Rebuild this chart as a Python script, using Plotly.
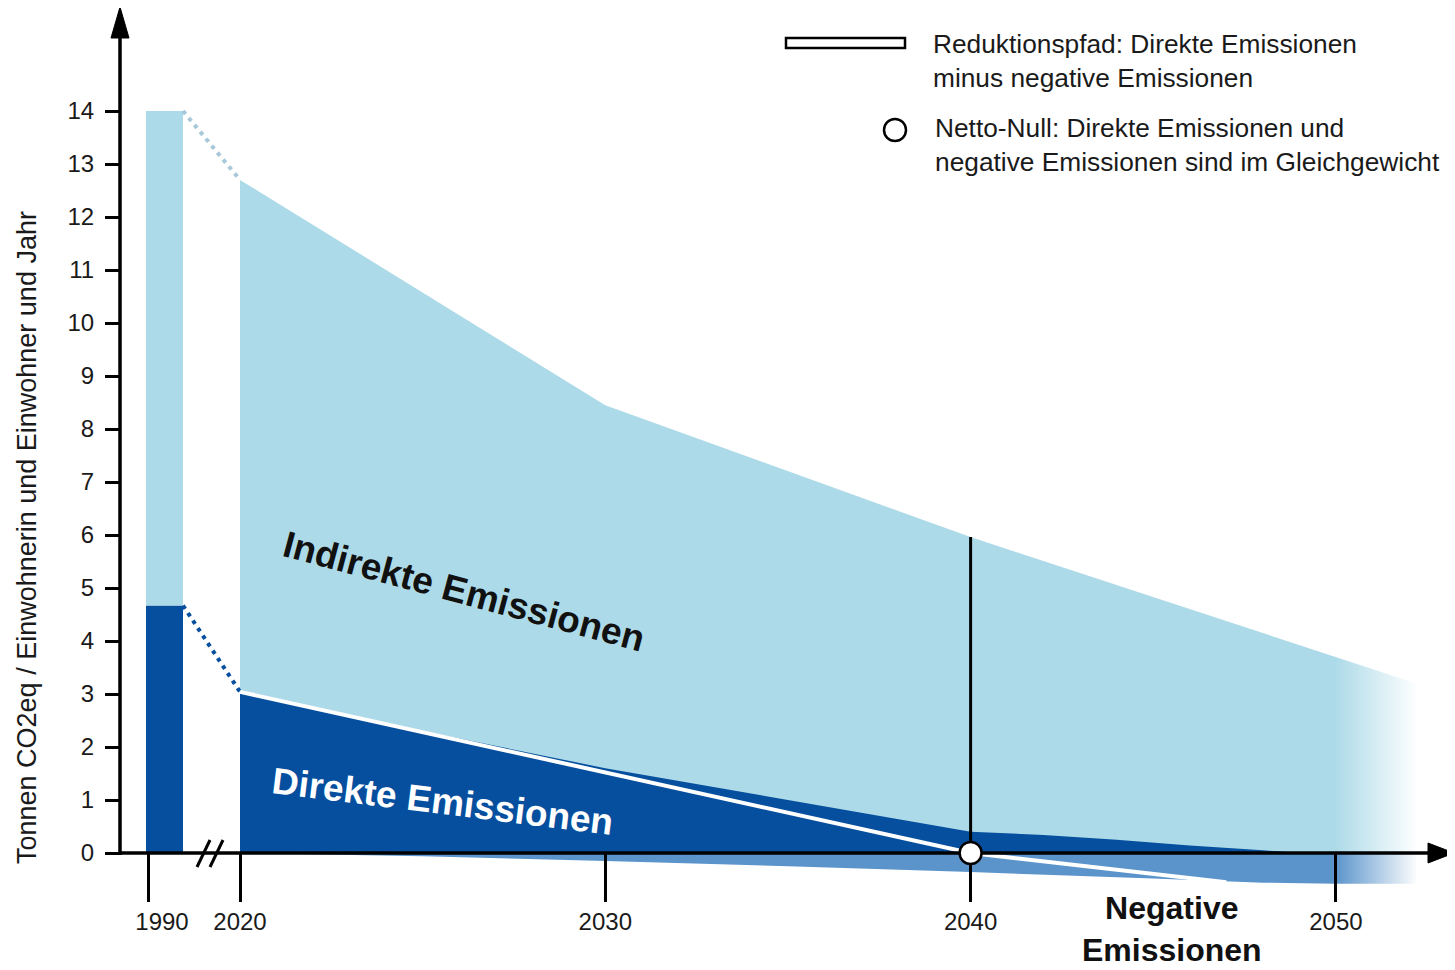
import plotly.graph_objects as go

# ---------------- data ----------------
bar_year = 1990
bar_total = 14.0          # direct + indirect, 1990
bar_direct = 4.67         # direct, 1990

years_total = [2020, 2030, 2040, 2052.2]
total = [12.7, 8.45, 5.96, 3.2]                     # upper edge (direct + indirect)

years_direct = [2020, 2025, 2030, 2035, 2040, 2042, 2044, 2046, 2048, 2049]
direct = [3.04, 2.30, 1.60, 1.00, 0.40, 0.34, 0.25, 0.14, 0.05, 0.0]

years_neg = [2020, 2025, 2030, 2035, 2040, 2045, 2048, 2050, 2052.2]
negative = [0.0, -0.06, -0.15, -0.25, -0.36, -0.48, -0.56, -0.58, -0.58]

years_net = [2020, 2030, 2040, 2047]
net = [3.04, 1.52, 0.0, -0.55]                       # Reduktionspfad

netzero_year = 2040
netzero_value = 0.0

tick_years = [1990, 2020, 2030, 2040, 2050]
tick_labels = ["1990", "2020", "2030", "2040", "2050"]
y_ticks = list(range(0, 15))

label_indirect = "Indirekte Emissionen"
label_direct = "Direkte Emissionen"
label_negative = "Negative<br>Emissionen"
y_title = "Tonnen CO2eq / Einwohnerin und Einwohner und Jahr"
legend_path = "Reduktionspfad: Direkte Emissionen<br>minus negative Emissionen"
legend_null = "Netto-Null: Direkte Emissionen und<br>negative Emissionen sind im Gleichgewicht"

# ---------------- styling / layout calibration ----------------
OFF = 8                      # page body margin of the browser
FIG_W, FIG_H = 1455 - OFF, 970 - OFF
FONT = "Liberation Sans, Arial, Helvetica, sans-serif"
LIGHT = "#ADDAE8"
DARK = "#064F9F"
MEDIUM = "#5A94CB"
LIGHT_DOT = "#A6C8D8"
TXT = "#1a1a1a"

PX_PER_YEAR = 36.53
X_REF_YEAR, X_REF_PX = 2020, 240
Y_ZERO_PX, PX_PER_UNIT = 853, 53


def xd(px):
    return X_REF_YEAR + (px - X_REF_PX) / PX_PER_YEAR


def yd(py):
    return (Y_ZERO_PX - py) / PX_PER_UNIT


def xp(px):
    return (px - OFF) / FIG_W


def yp(py):
    return 1 - (py - OFF) / FIG_H


# axis break: 1990 is drawn just left of 2020
def xpos(year):
    return xd(148) if year == bar_year else year


bar_offset = xd(146) - xpos(bar_year)
bar_width = 37 / PX_PER_YEAR
tick_pos = [xpos(y) for y in tick_years]
label_pos = [p + (14 / PX_PER_YEAR if y == bar_year else 0) for p, y in zip(tick_pos, tick_years)]

fade_start, fade_stop = xd(1335), xd(1418)

fig = go.Figure()

# indirect (total envelope)
fig.add_trace(go.Scatter(
    x=years_total, y=total, mode="none", fill="tozeroy", fillcolor=LIGHT,
    fillgradient=dict(type="horizontal", start=fade_start, stop=fade_stop,
                      colorscale=[[0, LIGHT], [1, "#FFFFFF"]]),
    hoverinfo="skip"))

# negative emissions
fig.add_trace(go.Scatter(
    x=years_neg, y=negative, mode="none", fill="tozeroy", fillcolor=MEDIUM,
    fillgradient=dict(type="horizontal", start=fade_start, stop=fade_stop,
                      colorscale=[[0, MEDIUM], [1, "#FFFFFF"]]),
    hoverinfo="skip"))

# direct emissions
fig.add_trace(go.Scatter(
    x=years_direct, y=direct, mode="none", fill="tozeroy", fillcolor=DARK,
    hoverinfo="skip"))

# 1990 bar
fig.add_trace(go.Bar(x=[xpos(bar_year)], y=[bar_direct], base=[0], width=[bar_width],
                     offset=[bar_offset], marker=dict(color=DARK, line=dict(width=0)),
                     hoverinfo="skip"))
fig.add_trace(go.Bar(x=[xpos(bar_year)], y=[bar_total - bar_direct], base=[bar_direct],
                     width=[bar_width], offset=[bar_offset],
                     marker=dict(color=LIGHT, line=dict(width=0)), hoverinfo="skip"))

bar_right = xpos(bar_year) + bar_offset + bar_width
fig.add_trace(go.Scatter(x=[bar_right, years_total[0]], y=[bar_total, total[0]], mode="lines",
                         line=dict(color=LIGHT_DOT, width=4, dash="4px,5px"), hoverinfo="skip"))
fig.add_trace(go.Scatter(x=[bar_right, years_direct[0]], y=[bar_direct, direct[0]], mode="lines",
                         line=dict(color=DARK, width=4, dash="4px,5px"), hoverinfo="skip"))

# reduction path (white line), on overlay axis x2
fig.add_trace(go.Scatter(x=years_net, y=net, mode="lines", xaxis="x2",
                         line=dict(color="white", width=4), hoverinfo="skip"))

total_at_netzero = total[years_total.index(netzero_year)]

shapes = [
    # y axis line + arrow
    dict(type="line", x0=xd(120), x1=xd(120), y0=yd(855), y1=yd(30),
         line=dict(color="black", width=3.5)),
    dict(type="path", path=f"M {xd(111)},{yd(38)} L {xd(120)},{yd(7)} L {xd(129)},{yd(38)} Z",
         fillcolor="black", line=dict(color="black", width=1)),
    # x axis line + arrow
    dict(type="line", x0=xd(118.5), x1=xd(1432), y0=0, y1=0,
         line=dict(color="black", width=3.5)),
    dict(type="path", path=f"M {xd(1428)},{yd(843)} L {xd(1454)},{yd(853)} L {xd(1428)},{yd(863)} Z",
         fillcolor="black", line=dict(color="black", width=1)),
    # axis break marks
    dict(type="line", x0=xd(197), x1=xd(210), y0=yd(867), y1=yd(840), line=dict(color="black", width=3)),
    dict(type="line", x0=xd(210), x1=xd(223), y0=yd(867), y1=yd(840), line=dict(color="black", width=3)),
    # net-zero vertical line
    dict(type="line", x0=netzero_year, x1=netzero_year, y0=0, y1=total_at_netzero,
         line=dict(color="black", width=3)),
    # net-zero circle
    dict(type="circle", xsizemode="pixel", ysizemode="pixel", xanchor=netzero_year,
         yanchor=netzero_value, x0=-11, x1=11, y0=-11, y1=11,
         fillcolor="white", line=dict(color="black", width=2.5)),
    # legend symbols
    dict(type="rect", xref="paper", yref="paper", x0=xp(786), x1=xp(905), y0=yp(48), y1=yp(38),
         fillcolor="white", line=dict(color="black", width=2.5)),
    dict(type="circle", xref="paper", yref="paper", x0=xp(884), x1=xp(906), y0=yp(141), y1=yp(119),
         fillcolor="white", line=dict(color="black", width=2.5)),
]
for s in shapes:
    s.setdefault("xref", "x")
    s.setdefault("yref", "y")
    s["layer"] = "above"

annotations = [
    dict(x=xd(464), y=yd(591), xref="x", yref="y", text=label_indirect, showarrow=False,
         textangle=15, xanchor="center", yanchor="middle",
         font=dict(size=37, color="#111111", weight="bold")),
    dict(x=xd(442), y=yd(801), xref="x", yref="y", text=label_direct, showarrow=False,
         textangle=7, xanchor="center", yanchor="middle",
         font=dict(size=37, color="white", weight="bold")),
    dict(x=xp(1172), y=yp(929), xref="paper", yref="paper", text=label_negative, showarrow=False,
         xanchor="center", yanchor="middle", align="center",
         font=dict(size=32, color="#111111", weight="bold")),
    dict(x=xp(27), y=yp(538), xref="paper", yref="paper", text=y_title, showarrow=False,
         xanchor="center", yanchor="middle", textangle=-90, font=dict(size=27, color=TXT)),
    dict(x=xp(931), y=yp(61), xref="paper", yref="paper", text=legend_path, showarrow=False,
         xanchor="left", yanchor="middle", align="left", font=dict(size=26.3, color=TXT)),
    dict(x=xp(933), y=yp(145), xref="paper", yref="paper", text=legend_null, showarrow=False,
         xanchor="left", yanchor="middle", align="left", font=dict(size=26.3, color=TXT)),
]

x_range = [xd(OFF), xd(OFF + FIG_W)]
y_range = [yd(OFF + FIG_H), yd(OFF)]

fig.update_layout(
    width=FIG_W, height=FIG_H, margin=dict(l=0, r=0, t=0, b=0, autoexpand=False),
    paper_bgcolor="white", plot_bgcolor="white", showlegend=False, barmode="overlay",
    font=dict(family=FONT, color=TXT),
    shapes=shapes, annotations=annotations,
    xaxis=dict(range=x_range, anchor="free", position=yp(Y_ZERO_PX), showgrid=False,
               zeroline=False, showline=False, ticks="outside", ticklen=48, tickwidth=3,
               tickcolor="black", tickmode="array", tickvals=tick_pos, showticklabels=False,
               fixedrange=True),
    xaxis2=dict(range=x_range, matches="x", overlaying="x", anchor="free", position=yp(Y_ZERO_PX),
                showgrid=False, zeroline=False, showline=False, ticks="", tickmode="array",
                tickvals=label_pos, ticktext=tick_labels, ticklabelstandoff=52,
                tickfont=dict(size=24, color=TXT), fixedrange=True),
    yaxis=dict(range=y_range, anchor="free", position=xp(120), showgrid=False, zeroline=False,
               showline=False, ticks="outside", ticklen=15, tickwidth=3, tickcolor="black",
               tickmode="array", tickvals=y_ticks, ticklabelstandoff=6,
               tickfont=dict(size=24, color=TXT), fixedrange=True),
)

fig.write_html("out.html")
